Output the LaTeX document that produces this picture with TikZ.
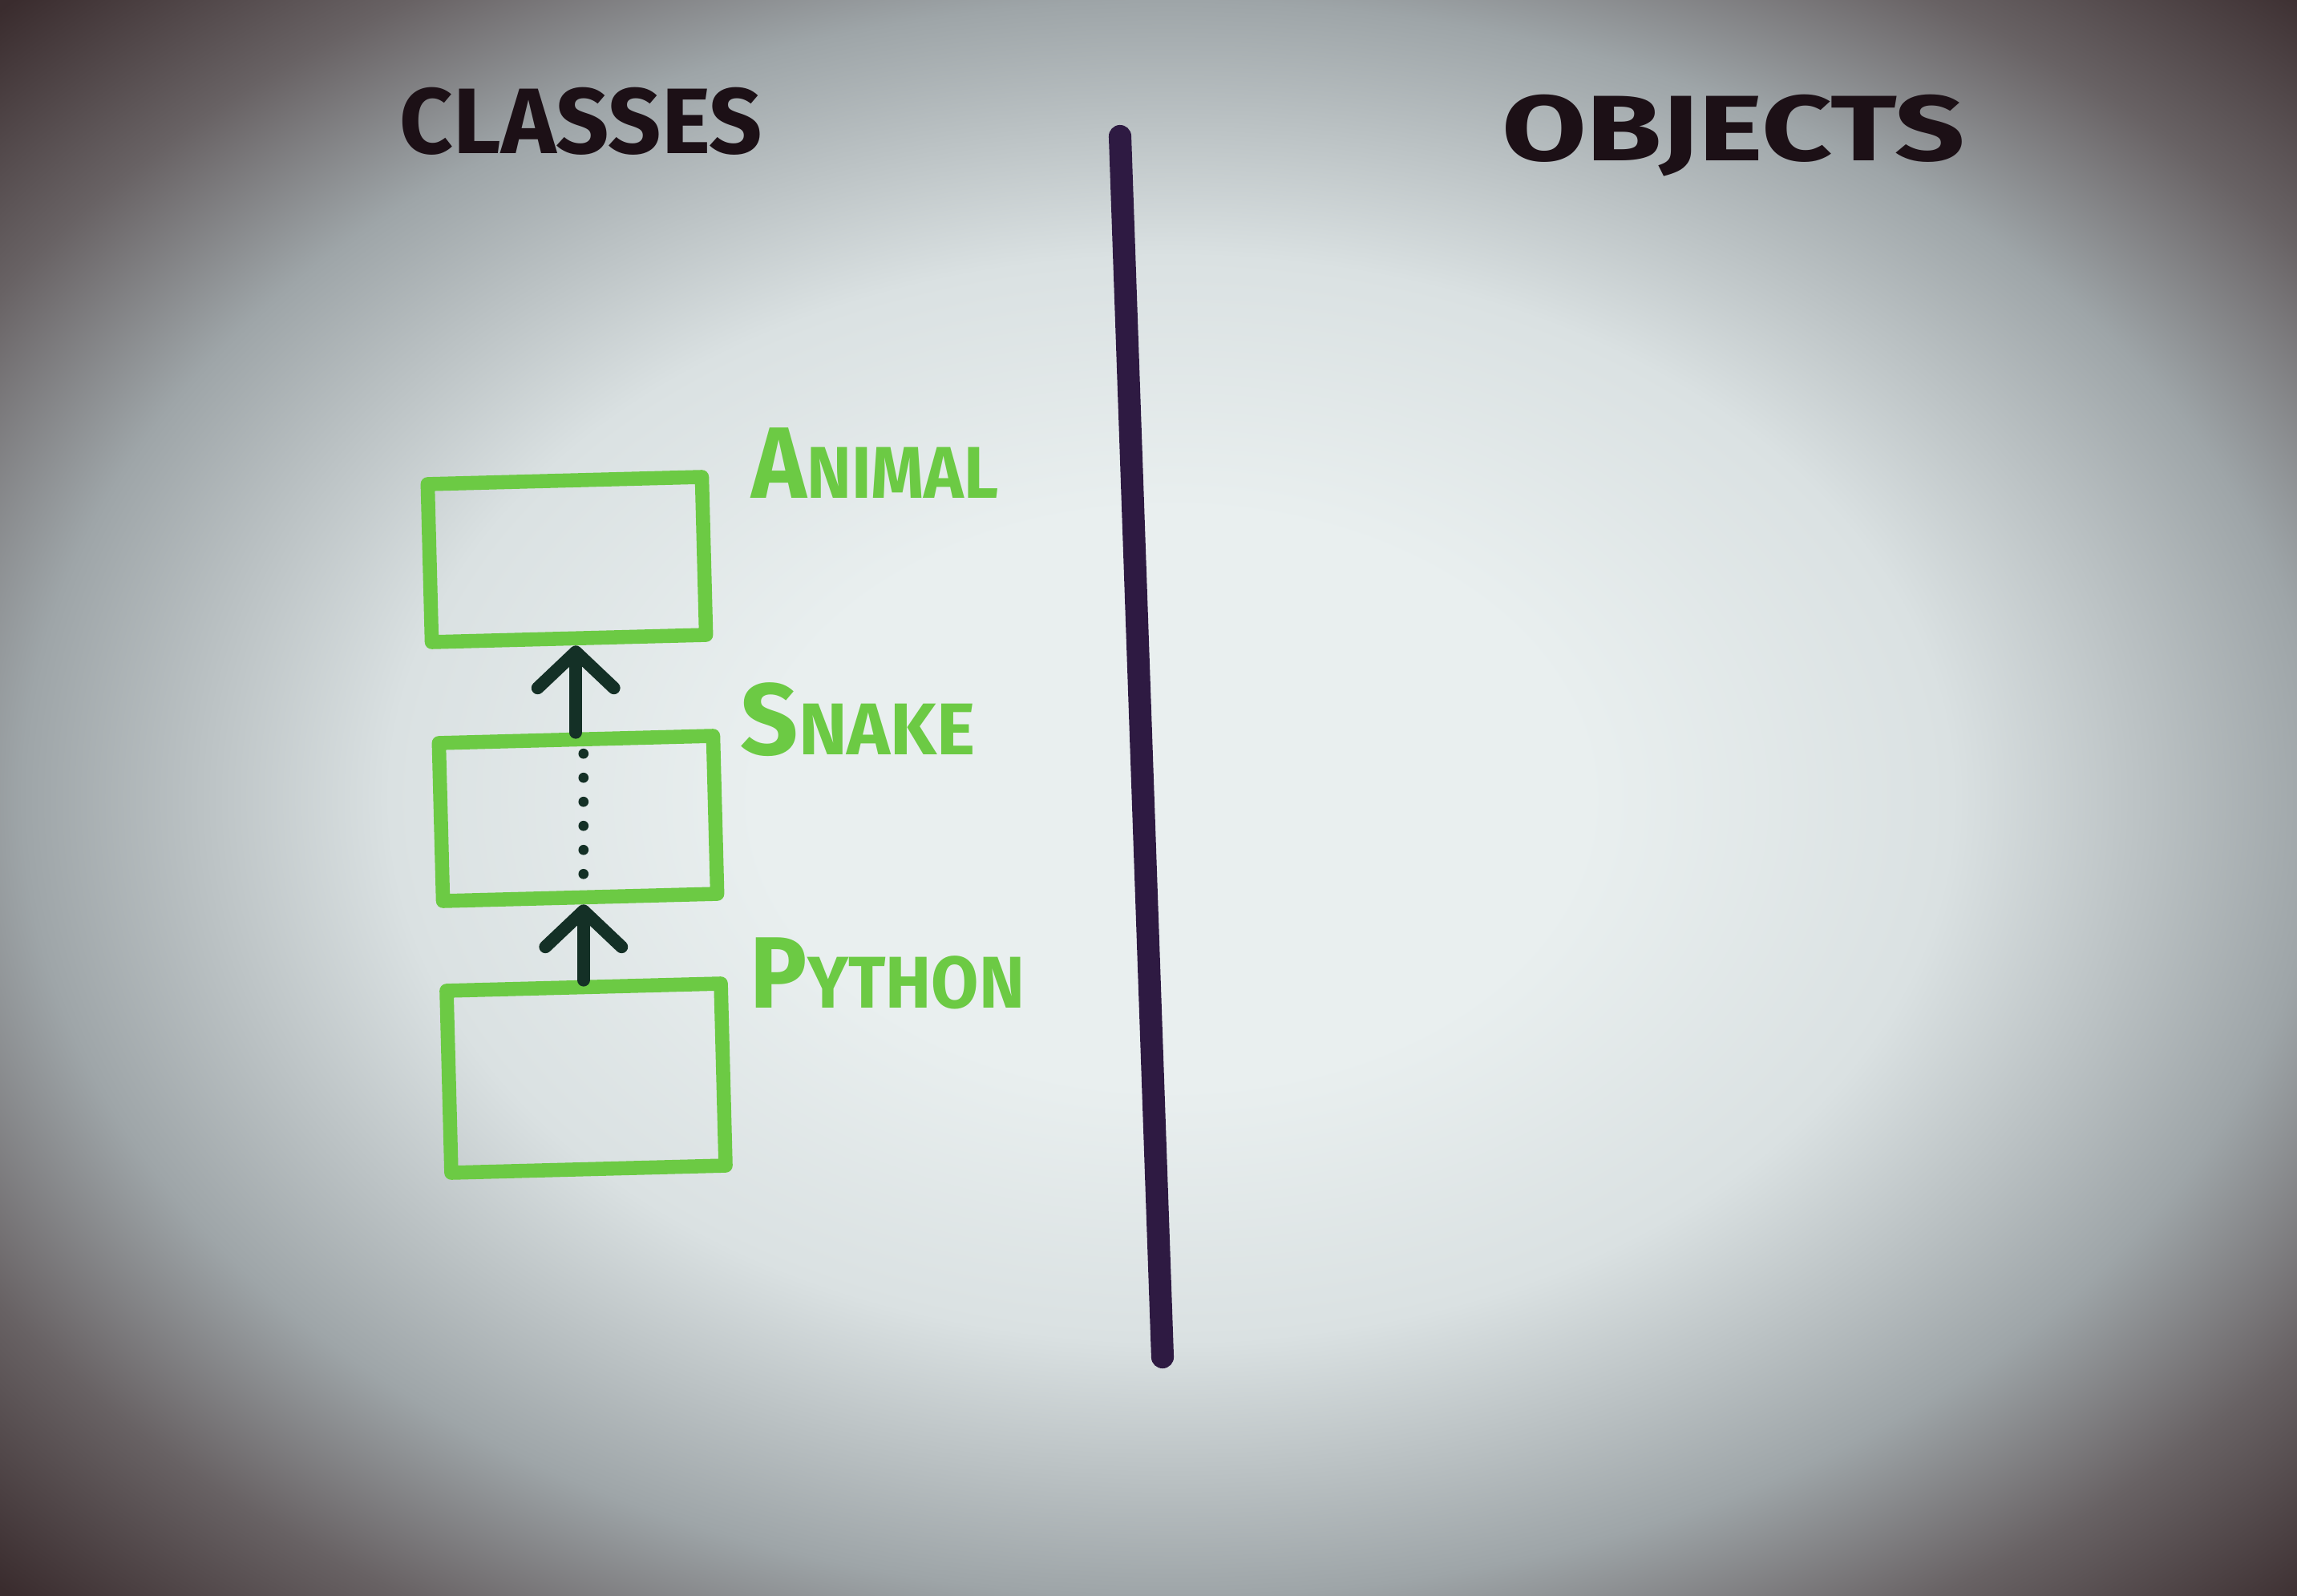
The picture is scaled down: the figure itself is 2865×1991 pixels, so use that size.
\documentclass[tikz,border=0pt]{standalone}
\usepackage{graphicx}
\usepackage{fontspec}
\setmainfont{Fira Sans}
\usetikzlibrary{arrows.meta}

\definecolor{markergreen}{RGB}{108,202,68}
\definecolor{arrowink}{RGB}{20,48,38}
\definecolor{titleink}{RGB}{28,16,22}
\definecolor{dividerink}{RGB}{46,26,66}
\definecolor{papermid}{RGB}{233,239,239}
\definecolor{paperlight}{RGB}{218,225,226}
\definecolor{paperedge}{RGB}{158,165,168}
\definecolor{paperdark}{RGB}{104,98,100}
\definecolor{papercorner}{RGB}{58,44,46}

% vignette of the photographed sheet
\pgfdeclareradialshading{paper}{\pgfpoint{0bp}{0bp}}{%
  color(0bp)=(papermid); color(18bp)=(papermid); color(34bp)=(paperlight);
  color(50bp)=(paperedge); color(60bp)=(paperdark); color(71bp)=(papercorner);
  color(90bp)=(papercorner)}

% one tall capital, then smaller capitals
\newcommand{\hcaps}[2]{{\fontsize{36}{40}\selectfont #1}{\fontsize{26}{30}\selectfont #2}}

\begin{document}
\begin{tikzpicture}[x=0.01cm, y=-0.01cm,
    title/.style={anchor=base, text=titleink, font=\fontsize{33}{36}\selectfont\bfseries},
    classbox/.style={draw=markergreen, line width=5pt, line join=round,
      minimum width=3.42cm, minimum height=1.97cm, inner sep=0pt},
    classname/.style={anchor=base west, text=markergreen, inner sep=0pt,
      font=\bfseries},
    inherit/.style={draw=arrowink, line width=4.5pt, line cap=round,
      -{Straight Barb[length=0.45cm, width=0.95cm, round]}},
    chain/.style={draw=arrowink, line width=3.6pt, line cap=round,
      dash pattern=on 0pt off 0.3cm}]
  \useasboundingbox (0,0) rectangle (2865,1991);
  % paper: radial shading stretched over the sheet
  \begin{pgfscope}
    \pgftransformshift{\pgfpoint{14.6cm}{-9.955cm}}
    \pgftransformxscale{8.12}
    \pgftransformyscale{5.64}
    \pgflowlevelsynccm
    \pgfuseshading{paper}
  \end{pgfscope}

  % headings
  \node[title] (classes) at (725,192) {CLASSES};
  \node[title] (objects) at (2162,201) {\scalebox{1.32}[1]{OBJECTS}};

  % divider
  \draw[dividerink, line width=8pt, line cap=round] (1397,170) -- (1450,1693);

  % class boxes
  \node[classbox, rotate=1.5] (animal) at (707,698) {};
  \node[classbox, rotate=1.5] (snake) at (721,1021) {};
  \node[classbox, rotate=1.5, minimum height=2.27cm] (python) at (731,1345) {};

  % class names
  \node[classname] (animallbl) at (937,621) {\scalebox{0.92}[1]{\hcaps{A}{NIMAL}}};
  \node[classname] (snakelbl) at (923,941) {\hcaps{S}{NAKE}};
  \node[classname] (pythonlbl) at (935,1257) {\scalebox{0.94}[1]{\hcaps{P}{YTHON}}};

  % inheritance
  \draw[inherit] (snake.north) -- (snake.north |- animal.south);
  \draw[inherit] (python.north) -- (python.north |- snake.south);
  \draw[chain, shorten >=0.1cm, shorten <=0.38cm] (python.north |- snake.south) -- (python.north |- snake.north);
\end{tikzpicture}
\end{document}
